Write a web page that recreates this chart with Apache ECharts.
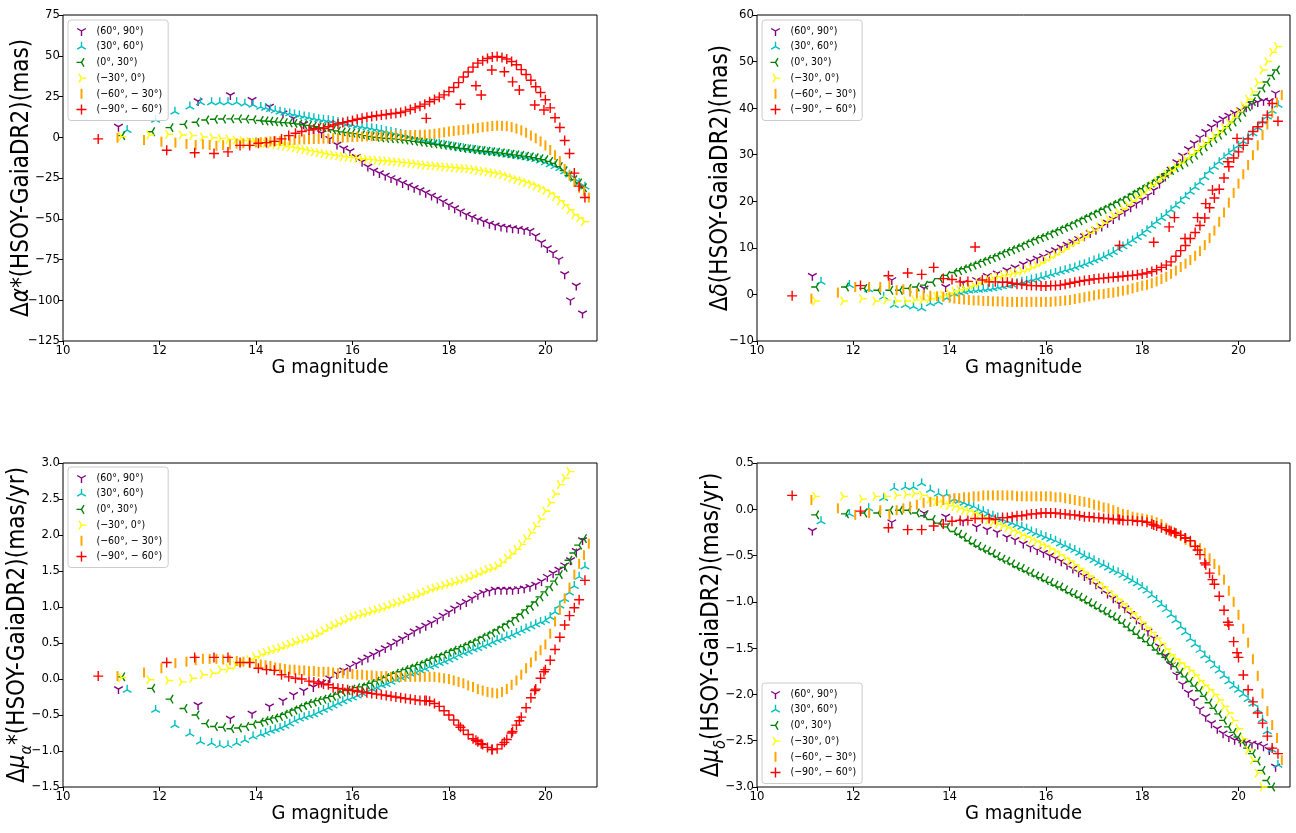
<!DOCTYPE html>
<html>
<head>
<meta charset="utf-8">
<script src="https://cdn.jsdelivr.net/npm/echarts@6/dist/echarts.min.js"></script>
<style>
html,body{margin:0;padding:0;background:#fff;}
#chart{width:1296px;height:833px;}
</style>
</head>
<body>
<div id="chart"></div>
<script>
// ---------- tick labels ----------
const X_TICKS = [10, 12, 14, 16, 18, 20];
// ---------- categories (declination zones) ----------
const ZONES = ['(60°, 90°)', '(30°, 60°)', '(0°, 30°)', '(−30°, 0°)', '(−60°, − 30°)', '(−90°, − 60°)'];
const COLORS = ['#800080', '#00bfbf', '#008000', '#ffff00', '#ffa500', '#ff0000'];

// common faint-end magnitude bins
const G14 = [14.1,14.2,14.3,14.4,14.5,14.6,14.7,14.8,14.9,15.0,
             15.1,15.2,15.3,15.4,15.5,15.6,15.7,15.8,15.9,16.0,
             16.1,16.2,16.3,16.4,16.5,16.6,16.7,16.8,16.9,17.0,
             17.1,17.2,17.3,17.4,17.5,17.6,17.7,17.8,17.9,18.0,
             18.1,18.2,18.3,18.4,18.5,18.6,18.7,18.8,18.9,19.0,
             19.1,19.2,19.3,19.4,19.5,19.6,19.7,19.8,19.9,20.0,
             20.1,20.2,20.3,20.4,20.5,20.6,20.7];

// ---------- zone A (60,90) purple ----------
const MAG_A = [11.15,12.8,13.47,13.92,14.28,14.56,14.78,14.99,15.19,15.36,
  15.53,15.68,15.82,15.95,16.08,16.2,16.32,16.44,16.56,16.68,
  16.8,16.92,17.04,17.16,17.28,17.4,17.52,17.64,17.76,17.88,
  18.0,18.12,18.24,18.36,18.48,18.6,18.72,18.84,18.96,19.08,
  19.2,19.32,19.44,19.56,19.68,19.8,19.92,20.04,20.16,20.28,
  20.4,20.52,20.64,20.77];
const RA_A = [6.5,22.2,25.9,22.9,18.8,14.7,11.6,8.0,5.0,2.5,
  -1.0,-4.5,-6.8,-8.5,-12.0,-15.0,-18.0,-20.5,-22.0,-23.5,
  -25.0,-26.5,-28.0,-29.5,-31.0,-32.5,-34.0,-35.8,-37.5,-39.5,
  -41.5,-43.5,-45.5,-47.5,-49.0,-50.5,-51.8,-53.0,-54.0,-54.8,
  -55.3,-55.8,-56.2,-56.8,-57.5,-60.5,-64.5,-68.0,-71.0,-75.0,
  -84.0,-100.0,-91.0,-108.0];
const DE_A = [4.0,3.1,1.3,1.6,2.5,3.1,4.0,4.5,5.2,5.8,
  6.5,7.1,7.7,8.2,8.9,9.5,10.1,10.7,11.3,11.9,
  12.5,13.2,13.9,14.6,15.4,16.2,17.0,17.8,18.7,19.5,
  20.4,21.3,22.4,23.8,25.3,26.8,28.4,29.8,31.2,32.5,
  33.7,34.9,36.0,36.9,37.7,38.4,39.0,39.6,40.2,40.8,
  41.3,41.6,41.5,43.2];
const PMRA_A = [-0.14,-0.36,-0.55,-0.48,-0.38,-0.30,-0.22,-0.16,-0.11,-0.05,
  0.01,0.07,0.12,0.17,0.21,0.26,0.30,0.34,0.38,0.43,
  0.47,0.52,0.56,0.61,0.66,0.70,0.74,0.78,0.83,0.88,
  0.93,0.98,1.03,1.07,1.12,1.17,1.20,1.22,1.24,1.24,
  1.24,1.24,1.25,1.26,1.28,1.31,1.36,1.42,1.47,1.52,
  1.58,1.65,1.78,1.93];
const PMDE_A = [-0.23,-0.14,-0.04,-0.08,-0.13,-0.19,-0.22,-0.25,-0.30,-0.33,
  -0.37,-0.41,-0.44,-0.47,-0.50,-0.53,-0.56,-0.60,-0.64,-0.68,
  -0.72,-0.76,-0.81,-0.86,-0.91,-0.96,-1.02,-1.07,-1.13,-1.19,
  -1.25,-1.32,-1.39,-1.48,-1.58,-1.68,-1.79,-1.89,-1.98,-2.07,
  -2.16,-2.24,-2.31,-2.37,-2.42,-2.46,-2.49,-2.51,-2.52,-2.53,
  -2.54,-2.56,-2.60,-2.78];

// ---------- zone B (30,60) cyan ----------
const MAG_B = [11.33,11.92,12.32,12.63,12.85,13.08,13.25,13.42,13.6,13.77,13.94].concat(G14, [20.82]);
const RA_B = [4.4,10.6,15.7,18.8,21.4,21.4,21.4,21.4,21.4,20.6,19.8,
  18.6,18.0,17.2,16.4,15.7,15.1,14.6,14.0,13.4,12.8,
  12.2,11.6,11.1,10.7,10.4,10.0,9.4,8.8,8.2,7.6,
  7.0,6.5,6.0,5.5,5.0,4.4,3.8,3.2,2.6,2.0,
  1.3,0.6,-0.1,-0.8,-1.6,-2.5,-3.2,-3.9,-4.6,-5.2,
  -5.8,-6.3,-6.8,-7.3,-7.7,-8.2,-8.6,-9.0,-9.4,-9.8,
  -10.2,-10.6,-11.0,-11.4,-11.9,-12.4,-12.9,-13.5,-14.3,-15.5,
  -16.6,-17.8,-19.0,-21.0,-23.0,-25.5,-28.0,
  -30.3];
const DE_B = [2.7,2.0,1.1,-0.5,-2.3,-2.3,-2.6,-3.0,-1.9,-1.6,-0.8,
  0.1,0.4,0.6,0.8,0.9,1.0,1.1,1.2,1.3,1.5,
  1.7,1.9,2.1,2.4,2.7,2.9,3.2,3.4,3.7,4.0,
  4.3,4.6,4.9,5.2,5.5,5.8,6.2,6.5,6.9,7.3,
  7.7,8.1,8.6,9.1,9.7,10.3,10.9,11.6,12.3,13.0,
  13.8,14.7,15.6,16.4,17.2,18.1,19.0,20.0,21.0,22.0,
  23.0,24.0,25.2,26.4,27.4,28.4,29.4,30.3,31.1,31.9,
  32.8,33.7,34.6,35.8,37.1,38.2,39.4,
  40.7];
const PMRA_B = [-0.15,-0.43,-0.64,-0.76,-0.87,-0.89,-0.92,-0.92,-0.89,-0.85,-0.80,
  -0.77,-0.75,-0.72,-0.70,-0.68,-0.65,-0.62,-0.58,-0.55,-0.53,
  -0.51,-0.49,-0.46,-0.43,-0.40,-0.37,-0.34,-0.31,-0.28,-0.26,
  -0.23,-0.20,-0.17,-0.14,-0.12,-0.09,-0.07,-0.04,-0.01,0.02,
  0.04,0.07,0.09,0.12,0.14,0.17,0.19,0.22,0.24,0.27,
  0.30,0.33,0.36,0.38,0.41,0.43,0.46,0.48,0.51,0.54,
  0.56,0.59,0.61,0.64,0.67,0.70,0.73,0.76,0.79,0.81,
  0.86,0.93,1.02,1.11,1.20,1.29,1.42,
  1.56];
const PMDE_B = [-0.13,-0.05,0.01,0.12,0.23,0.24,0.24,0.28,0.21,0.17,0.16,
  0.11,0.09,0.07,0.05,0.03,0.00,-0.02,-0.05,-0.07,-0.09,
  -0.11,-0.13,-0.15,-0.17,-0.19,-0.21,-0.24,-0.26,-0.28,-0.30,
  -0.32,-0.34,-0.37,-0.39,-0.42,-0.44,-0.47,-0.50,-0.52,-0.55,
  -0.58,-0.60,-0.63,-0.66,-0.68,-0.71,-0.74,-0.77,-0.80,-0.84,
  -0.88,-0.93,-0.98,-1.03,-1.08,-1.14,-1.20,-1.27,-1.33,-1.40,
  -1.46,-1.52,-1.58,-1.63,-1.69,-1.74,-1.80,-1.86,-1.91,-1.95,
  -2.00,-2.05,-2.10,-2.17,-2.27,-2.40,-2.60,
  -2.76];

// ---------- zone C (0,30) green ----------
const MAG_C = [11.23,11.85,12.23,12.52,12.77,12.97,13.15,13.32,13.49,13.65,13.8,13.95].concat(G14, [20.8]);
const RA_C = [1.0,3.4,5.9,7.9,9.2,10.6,11.0,11.2,11.3,11.3,11.1,10.8,
  10.3,10.0,9.8,9.5,9.3,9.0,8.8,8.5,8.1,7.7,
  7.3,6.9,6.4,5.9,5.4,4.6,3.9,3.3,2.9,2.6,
  2.2,1.6,1.0,0.5,0.0,-0.3,-0.6,-0.8,-1.0,-1.3,
  -1.7,-2.1,-2.5,-2.9,-3.3,-3.7,-4.1,-4.5,-4.9,-5.3,
  -5.8,-6.3,-6.8,-7.1,-7.5,-7.9,-8.3,-8.6,-8.9,-9.2,
  -9.6,-10.0,-10.4,-10.8,-11.2,-11.6,-12.0,-12.6,-13.2,-13.8,
  -14.8,-16.0,-18.0,-20.5,-23.5,-26.0,-28.0,
  -31.0];
const DE_C = [1.6,1.6,1.3,0.9,0.9,0.9,1.3,1.6,2.0,2.6,3.4,4.1,
  4.7,5.1,5.5,5.9,6.3,6.7,7.1,7.5,7.9,8.3,
  8.8,9.2,9.6,10.0,10.4,10.9,11.4,11.8,12.2,12.6,
  13.0,13.5,13.9,14.4,14.8,15.3,15.8,16.3,16.8,17.3,
  17.8,18.3,18.8,19.3,19.8,20.3,20.9,21.5,22.1,22.7,
  23.3,23.9,24.5,25.2,25.9,26.6,27.2,27.8,28.4,29.1,
  29.9,30.8,31.7,32.6,33.4,34.2,35.1,36.0,37.0,38.0,
  39.1,40.3,41.4,42.8,44.3,45.6,47.0,
  48.2];
const PMRA_C = [0.03,-0.13,-0.28,-0.41,-0.50,-0.62,-0.66,-0.67,-0.69,-0.68,-0.66,-0.63,
  -0.60,-0.58,-0.56,-0.54,-0.52,-0.49,-0.46,-0.43,-0.40,-0.37,
  -0.34,-0.32,-0.30,-0.28,-0.26,-0.24,-0.21,-0.18,-0.16,-0.14,
  -0.12,-0.11,-0.08,-0.06,-0.03,-0.01,0.02,0.05,0.08,0.10,
  0.13,0.15,0.18,0.20,0.23,0.26,0.29,0.31,0.34,0.37,
  0.40,0.42,0.45,0.48,0.51,0.54,0.58,0.61,0.64,0.68,
  0.72,0.76,0.80,0.85,0.90,0.96,1.01,1.07,1.14,1.21,
  1.28,1.36,1.45,1.55,1.65,1.75,1.86,
  1.95];
const PMDE_C = [-0.06,-0.05,-0.04,-0.04,-0.01,-0.01,-0.01,-0.04,-0.07,-0.11,-0.15,-0.19,
  -0.24,-0.27,-0.30,-0.34,-0.37,-0.40,-0.43,-0.45,-0.48,-0.51,
  -0.54,-0.56,-0.59,-0.62,-0.64,-0.67,-0.69,-0.72,-0.74,-0.77,
  -0.79,-0.82,-0.84,-0.87,-0.90,-0.92,-0.95,-0.98,-1.01,-1.04,
  -1.07,-1.10,-1.13,-1.16,-1.19,-1.23,-1.27,-1.31,-1.35,-1.39,
  -1.43,-1.47,-1.52,-1.56,-1.60,-1.65,-1.70,-1.76,-1.81,-1.86,
  -1.91,-1.96,-2.02,-2.09,-2.15,-2.21,-2.28,-2.35,-2.41,-2.46,
  -2.52,-2.58,-2.64,-2.72,-2.82,-2.93,-3.00,
  -3.10];

// ---------- zone D (-30,0) yellow ----------
const MAG_D = [11.21,11.79,12.18,12.46,12.68,12.9,13.1,13.27,13.43,13.58,13.72,13.86,13.98].concat(G14, [20.8]);
const RA_D = [0.4,1.4,1.8,1.4,1.0,0.2,-0.3,-0.7,-1.2,-1.7,-2.1,-2.6,-3.0,
  -3.4,-3.7,-4.1,-4.5,-5.0,-5.5,-6.0,-6.6,-7.1,-7.7,
  -8.2,-8.8,-9.4,-10.0,-10.6,-11.0,-11.4,-11.8,-12.2,-12.6,
  -13.0,-13.3,-13.6,-13.9,-14.2,-14.4,-14.6,-14.9,-15.1,-15.4,
  -15.7,-16.0,-16.4,-16.8,-17.2,-17.4,-17.6,-17.9,-18.2,-18.5,
  -18.7,-18.9,-19.1,-19.4,-19.8,-20.3,-20.8,-21.3,-21.8,-22.3,
  -23.0,-24.0,-25.0,-26.0,-26.8,-27.8,-28.8,-29.9,-31.2,-32.6,
  -34.4,-36.5,-39.0,-41.5,-44.5,-47.5,-49.5,
  -51.8];
const DE_D = [-1.4,-1.4,-0.9,-1.4,-1.2,-1.4,-1.4,-1.2,-1.2,-0.9,-0.4,-0.1,0.3,
  0.7,1.0,1.3,1.7,2.0,2.4,2.8,3.2,3.5,3.8,
  4.1,4.3,4.5,4.7,5.0,5.4,5.8,6.3,6.8,7.4,
  8.0,8.6,9.2,9.8,10.5,11.1,11.7,12.4,13.1,13.8,
  14.5,15.3,16.1,16.9,17.6,18.4,19.2,20.0,20.8,21.6,
  22.5,23.4,24.2,25.0,25.8,26.6,27.4,28.2,29.1,29.9,
  30.7,31.6,32.4,33.2,34.0,34.8,35.8,36.8,38.0,39.2,
  40.5,41.9,43.5,45.5,48.2,50.0,52.0,
  53.2];
const PMRA_D = [0.02,-0.01,-0.02,-0.04,0.01,0.06,0.08,0.13,0.15,0.19,0.23,0.27,0.31,
  0.34,0.37,0.39,0.41,0.43,0.46,0.48,0.51,0.53,0.55,
  0.57,0.60,0.63,0.67,0.71,0.74,0.77,0.80,0.83,0.86,
  0.88,0.90,0.92,0.94,0.96,0.98,1.00,1.03,1.05,1.07,
  1.10,1.13,1.15,1.18,1.21,1.24,1.26,1.28,1.30,1.32,
  1.34,1.36,1.38,1.40,1.43,1.46,1.49,1.52,1.54,1.57,
  1.62,1.68,1.74,1.80,1.87,1.95,2.03,2.12,2.22,2.33,
  2.45,2.57,2.70,2.79,2.88,3.05,3.20,
  3.35];
const PMDE_D = [0.14,0.14,0.11,0.14,0.14,0.15,0.16,0.17,0.15,0.11,0.08,0.06,0.04,
  0.03,0.01,-0.01,-0.02,-0.04,-0.06,-0.09,-0.12,-0.14,-0.16,
  -0.18,-0.20,-0.23,-0.25,-0.28,-0.30,-0.33,-0.35,-0.38,-0.40,
  -0.43,-0.46,-0.49,-0.53,-0.56,-0.60,-0.64,-0.68,-0.72,-0.76,
  -0.80,-0.84,-0.89,-0.93,-0.97,-1.02,-1.07,-1.12,-1.17,-1.22,
  -1.28,-1.33,-1.39,-1.45,-1.51,-1.57,-1.62,-1.66,-1.70,-1.74,
  -1.79,-1.85,-1.90,-1.95,-2.00,-2.06,-2.13,-2.20,-2.28,-2.37,
  -2.48,-2.60,-2.71,-2.85,-3.00,-3.15,-3.30,
  -3.45];

// ---------- zone E (-60,-30) orange ----------
const MAG_E = [11.13,11.68,12.04,12.33,12.56,12.75,12.9,13.04,13.18,13.32,13.46,13.6,13.74,13.87,14.0].concat(G14, [20.8, 20.9]);
const RA_E = [-0.3,-1.7,-2.7,-3.3,-4.1,-4.8,-4.3,-4.8,-5.2,-4.8,-4.5,-3.9,-3.7,-3.5,-3.2,
  -3.0,-2.8,-2.6,-2.4,-2.2,-2.0,-1.8,-1.6,-1.4,-1.3,
  -1.2,-1.1,-1.0,-0.9,-0.8,-0.6,-0.4,-0.2,0.0,0.1,
  0.3,0.4,0.5,0.6,0.7,0.8,0.9,1.0,1.0,1.1,
  1.2,1.3,1.4,1.5,1.6,1.8,2.1,2.5,3.0,3.5,
  3.9,4.2,4.5,4.9,5.3,5.7,6.1,6.5,6.9,7.1,
  7.0,6.8,6.2,5.3,4.2,2.8,1.0,-0.6,-2.6,-5.0,
  -7.8,-11.0,-14.6,-19.5,-23.5,-27.5,-31.0,
  -33.0,-37.0];
const DE_E = [-0.9,0.4,1.6,1.6,1.6,2.2,0.9,1.1,0.6,0.2,-0.1,-0.3,-0.4,-0.5,-0.7,
  -0.9,-1.0,-1.1,-1.2,-1.3,-1.3,-1.4,-1.4,-1.5,-1.5,
  -1.5,-1.6,-1.6,-1.6,-1.6,-1.6,-1.6,-1.6,-1.6,-1.6,
  -1.6,-1.5,-1.4,-1.3,-1.2,-1.0,-0.8,-0.6,-0.4,-0.2,
  0.0,0.1,0.3,0.4,0.6,0.8,1.0,1.3,1.6,1.9,
  2.1,2.4,2.8,3.3,3.8,4.4,5.1,5.9,6.6,7.4,
  8.3,9.3,10.6,12.1,13.7,15.6,17.6,19.7,21.8,23.8,
  25.8,27.8,29.9,32.0,34.2,36.5,39.0,
  41.2,42.8];
const PMRA_E = [0.04,0.09,0.15,0.22,0.24,0.26,0.28,0.28,0.28,0.27,0.26,0.25,0.24,0.22,0.21,
  0.20,0.19,0.18,0.16,0.15,0.14,0.13,0.13,0.12,0.12,
  0.11,0.11,0.10,0.10,0.10,0.09,0.08,0.08,0.07,0.07,
  0.06,0.06,0.05,0.05,0.04,0.04,0.04,0.03,0.03,0.03,
  0.03,0.03,0.03,0.03,0.03,0.03,0.03,0.02,0.01,0.00,
  -0.02,-0.04,-0.06,-0.09,-0.11,-0.14,-0.16,-0.18,-0.19,-0.20,
  -0.18,-0.14,-0.08,-0.02,0.06,0.15,0.23,0.32,0.40,0.48,
  0.63,0.80,0.96,1.12,1.27,1.45,1.60,
  1.72,1.88];
const PMDE_E = [0.10,0.01,-0.06,-0.04,-0.01,-0.06,-0.01,0.01,0.03,0.05,0.07,0.08,0.09,0.10,0.11,
  0.12,0.12,0.13,0.13,0.14,0.14,0.15,0.15,0.15,0.15,
  0.15,0.15,0.15,0.14,0.14,0.14,0.14,0.14,0.14,0.14,
  0.14,0.13,0.13,0.12,0.11,0.10,0.09,0.08,0.07,0.05,
  0.04,0.02,0.01,-0.01,-0.03,-0.05,-0.06,-0.08,-0.09,-0.10,
  -0.11,-0.12,-0.14,-0.16,-0.20,-0.23,-0.26,-0.29,-0.33,-0.36,
  -0.39,-0.42,-0.47,-0.53,-0.59,-0.66,-0.76,-0.88,-1.00,-1.14,
  -1.29,-1.44,-1.62,-1.80,-1.99,-2.18,-2.33,
  -2.47,-2.71];

// ---------- zone F (-90,-60) red ----------
const MAG_F = [10.73,12.15,12.73,13.13,13.42,13.67,13.87,14.05,14.22,14.38,14.53,14.68,14.82,14.95].concat(G14.slice(10), [20.82]);
const RA_F = [-1.0,-8.0,-9.5,-10.0,-9.0,-5.0,-5.0,-3.7,-3.3,-2.5,-1.0,1.0,2.5,3.5,
  4.4,5.0,5.3,5.5,6.5,7.5,8.2,9.0,9.6,10.2,
  11.0,11.6,12.2,12.7,13.2,13.6,14.0,14.4,14.7,15.2,
  16.0,17.0,18.0,19.0,20.3,21.8,23.2,24.6,26.0,28.0,
  30.5,33.5,37.0,40.0,43.0,45.5,47.0,48.3,49.2,49.5,
  49.0,48.0,46.5,44.5,41.5,38.5,35.0,31.0,27.5,23.0,
  18.0,12.0,6.0,-2.0,-10.0,-22.0,-30.0,
  -37.0];
const DE_F = [-0.3,1.9,4.0,4.6,4.3,5.8,3.4,3.2,2.7,2.8,10.2,3.1,2.7,2.7,
  2.6,2.6,2.4,2.2,2.2,2.0,1.9,1.9,1.8,1.8,
  1.9,1.9,2.0,2.2,2.4,2.6,2.8,3.0,3.1,3.3,
  3.4,3.5,3.6,3.7,3.8,3.9,4.0,4.1,4.2,4.4,
  4.6,4.9,5.3,5.8,6.3,7.0,8.2,9.4,10.5,12.0,
  13.3,14.8,16.4,18.6,20.7,22.6,25.0,27.4,29.3,30.6,
  32.0,33.4,35.0,36.0,37.0,38.5,41.0,
  37.2];
const PMRA_F = [0.04,0.23,0.30,0.30,0.30,0.23,0.23,0.15,0.13,0.12,0.06,0.03,0.01,0.00,
  -0.03,-0.04,-0.06,-0.07,-0.08,-0.12,-0.13,-0.14,-0.15,-0.16,
  -0.17,-0.18,-0.19,-0.20,-0.21,-0.22,-0.23,-0.24,-0.25,-0.26,
  -0.27,-0.28,-0.29,-0.30,-0.30,-0.31,-0.34,-0.38,-0.44,-0.50,
  -0.57,-0.64,-0.71,-0.77,-0.83,-0.87,-0.91,-0.95,-0.98,-0.97,
  -0.91,-0.84,-0.75,-0.64,-0.53,-0.40,-0.26,-0.14,0.01,0.13,
  0.26,0.41,0.58,0.75,0.88,0.99,1.10,
  1.37];
const PMDE_F = [0.15,-0.02,-0.20,-0.22,-0.22,-0.18,-0.16,-0.13,-0.12,-0.12,-0.10,-0.10,-0.10,-0.11,
  -0.09,-0.09,-0.08,-0.07,-0.07,-0.06,-0.05,-0.05,-0.04,-0.04,
  -0.04,-0.04,-0.05,-0.05,-0.06,-0.06,-0.07,-0.08,-0.08,-0.09,
  -0.09,-0.10,-0.10,-0.11,-0.11,-0.12,-0.12,-0.12,-0.13,-0.13,
  -0.14,-0.16,-0.18,-0.20,-0.22,-0.24,-0.26,-0.28,-0.31,-0.34,
  -0.40,-0.49,-0.58,-0.69,-0.81,-0.94,-1.09,-1.25,-1.43,-1.60,
  -1.79,-1.95,-2.08,-2.20,-2.31,-2.45,-2.58,
  -2.64];
// sparse extra red bins (scattered points below the main red curve)
const MAG_FX = [17.53, 18.24, 18.56, 18.67, 18.89, 19.15, 19.32, 19.46, 19.78, 19.97];
const RA_FX = [11.6, 20.2, 31.6, 25.9, 41.3, 40.2, 34.0, 29.0, 19.8, 16.7];
const DE_FX = [10.5, 11.2, 14.5, 16.5, 12.0, 16.5, 19.5, 22.4, 28.5, 33.5];
const PMRA_FX = [-0.30, -0.67, -0.85, -0.90, -0.98, -0.88, -0.73, -0.58, -0.16, 0.10];
const PMDE_FX = [-0.11, -0.17, -0.23, -0.25, -0.31, -0.44, -0.60, -0.76, -1.22, -1.55];

// ---------- assemble ----------
const MAGS = [MAG_A, MAG_B, MAG_C, MAG_D, MAG_E, MAG_F.concat(MAG_FX)];
const PANEL_VALUES = [
  [RA_A, RA_B, RA_C, RA_D, RA_E, RA_F.concat(RA_FX)],
  [DE_A, DE_B, DE_C, DE_D, DE_E, DE_F.concat(DE_FX)],
  [PMRA_A, PMRA_B, PMRA_C, PMRA_D, PMRA_E, PMRA_F.concat(PMRA_FX)],
  [PMDE_A, PMDE_B, PMDE_C, PMDE_D, PMDE_E, PMDE_F.concat(PMDE_FX)]
];

// marker shapes (matplotlib '1','2','3','4','|','+'), drawn as strokes
const BOX = 'M-10 -10 L-10 -10 M10 10 L10 10 ';
const SYMBOLS = [
  'path://' + BOX + 'M0 0 L0 10 M0 0 L-8.66 -5 M0 0 L8.66 -5',
  'path://' + BOX + 'M0 0 L0 -10 M0 0 L-8.66 5 M0 0 L8.66 5',
  'path://' + BOX + 'M0 0 L-10 0 M0 0 L5 -8.66 M0 0 L5 8.66',
  'path://' + BOX + 'M0 0 L10 0 M0 0 L-5 -8.66 M0 0 L-5 8.66',
  'path://' + BOX + 'M0 -10 L0 10',
  'path://' + BOX + 'M-10 0 L10 0 M0 -10 L0 10'
];
const STROKE_W = [1.4, 1.4, 1.4, 1.4, 2.0, 1.4];

const FONT = "'DejaVu Sans Condensed', 'DejaVu Sans', sans-serif";
const GRIDS = [
  {left: 63, top: 15, width: 534, height: 326},
  {left: 757, top: 15, width: 533, height: 326},
  {left: 63, top: 463, width: 534, height: 324},
  {left: 757, top: 463, width: 533, height: 324}
];
const Y_RANGES = [[-125, 75, 25], [-10, 60, 10], [-1.5, 3.0, 0.5], [-3.0, 0.5, 0.5]];
const Y_NAMES = [
  'Δ{it|α}*(HSOY-GaiaDR2)(mas)',
  'Δ{it|δ}(HSOY-GaiaDR2)(mas)',
  'Δ{it|μ}{sub|α}*(HSOY-GaiaDR2)(mas/yr)',
  'Δ{it|μ}{sub|δ}(HSOY-GaiaDR2)(mas/yr)'
];
const Y_GAPS = [29, 24, 28, 28];
const LEGEND_POS = [{left: 68, top: 20}, {left: 762, top: 20}, {left: 68, top: 467}, {left: 762, top: 683}];

// sanity check
MAGS.forEach((m, z) => PANEL_VALUES.forEach((pv, p) => {
  if (pv[z].length !== m.length) console.error('length mismatch panel ' + p + ' zone ' + z + ': ' + pv[z].length + ' vs ' + m.length);
}));

const minus = s => String(s).replace('-', '−');

const grids = GRIDS.map(g => Object.assign({show: true, borderColor: '#000', borderWidth: 1, backgroundColor: 'transparent'}, g));

const xAxes = GRIDS.map((g, p) => ({
  type: 'value', gridIndex: p, min: 10, max: 21.07,
  name: 'G magnitude', nameLocation: 'middle', nameGap: 17, nameMoveOverlap: false,
  nameTextStyle: {fontSize: 20, fontFamily: FONT, color: '#000'},
  axisLine: {show: false, onZero: false},
  axisTick: {show: true, length: 4, customValues: X_TICKS, lineStyle: {color: '#000', width: 1}},
  axisLabel: {customValues: X_TICKS, fontSize: 13, fontFamily: FONT, color: '#000', margin: 3},
  splitLine: {show: false}
}));

const yAxes = GRIDS.map((g, p) => ({
  type: 'value', gridIndex: p, min: Y_RANGES[p][0], max: Y_RANGES[p][1], interval: Y_RANGES[p][2],
  name: Y_NAMES[p], nameLocation: 'middle', nameGap: Y_GAPS[p], nameMoveOverlap: false,
  nameTextStyle: {
    fontSize: 24, fontFamily: FONT, color: '#000',
    rich: {
      it: {fontSize: 24, fontStyle: 'italic', fontFamily: FONT, color: '#000'},
      sub: {fontSize: 16, fontStyle: 'italic', fontFamily: FONT, color: '#000', verticalAlign: 'bottom', lineHeight: 34}
    }
  },
  axisLine: {show: false, onZero: false},
  axisTick: {show: true, length: 4, lineStyle: {color: '#000', width: 1}},
  axisLabel: {
    fontSize: 13, fontFamily: FONT, color: '#000', margin: 3,
    formatter: v => p >= 2 ? minus(v.toFixed(1)) : minus(v)
  },
  splitLine: {show: false}
}));

const legendData = ZONES.map((name, z) => ({
  name, icon: SYMBOLS[z],
  itemStyle: {color: 'none', borderColor: COLORS[z], borderWidth: STROKE_W[z]}
}));

const legends = LEGEND_POS.map(pos => Object.assign({
  orient: 'vertical', data: legendData,
  itemWidth: 10, itemHeight: 10, itemGap: 0.7,
  padding: [3.5, 6, 3.5, 6],
  borderColor: '#cccccc', borderWidth: 1, borderRadius: 3,
  backgroundColor: 'rgba(255,255,255,0.8)',
  selectedMode: false,
  textStyle: {fontSize: 10.5, fontFamily: FONT, color: '#000', padding: [0, 0, 0, 5]}
}, pos));

const series = [];
PANEL_VALUES.forEach((pv, p) => {
  MAGS.forEach((mags, z) => {
    series.push({
      type: 'scatter', name: ZONES[z], xAxisIndex: p, yAxisIndex: p,
      data: mags.map((m, i) => [m, pv[z][i]]),
      symbol: SYMBOLS[z], symbolSize: 10, symbolKeepAspect: true,
      itemStyle: {color: 'none', borderColor: COLORS[z], borderWidth: STROKE_W[z], opacity: 1},
      emphasis: {disabled: true}, silent: true, clip: true, large: false, animation: false
    });
  });
});

const chart = echarts.init(document.getElementById('chart'), null, {renderer: 'canvas'});
chart.setOption({
  animation: false,
  backgroundColor: '#fff',
  textStyle: {fontFamily: FONT},
  grid: grids, xAxis: xAxes, yAxis: yAxes, legend: legends, series
});
</script>
</body>
</html>
